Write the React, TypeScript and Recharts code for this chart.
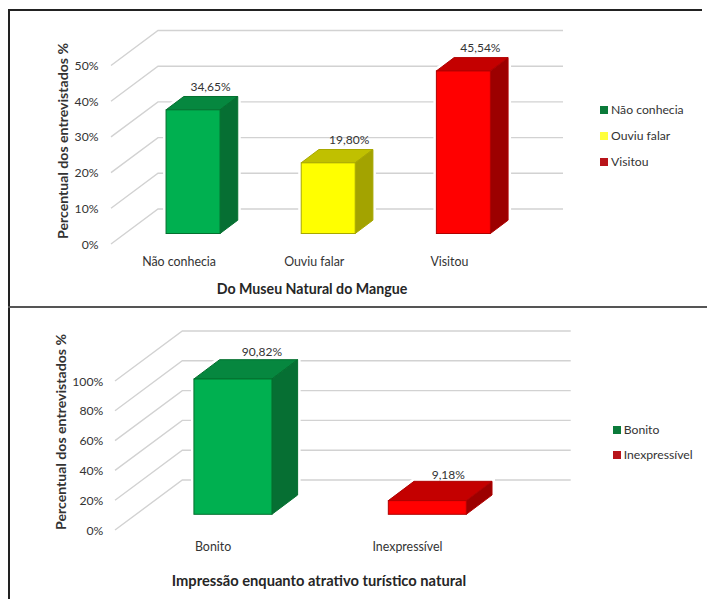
import React from 'react';
import { BarChart, Bar, XAxis, YAxis, CartesianGrid, Cell, Label, LabelList, Legend } from 'recharts';

// Awareness of the museum
const museumCategories = ['Não conhecia', 'Ouviu falar', 'Visitou'];
const museumValues = [34.65, 19.8, 45.54];
const museumTicks = [0, 10, 20, 30, 40, 50];

// Impression as a natural attraction
const impressionCategories = ['Bonito', 'Inexpressível'];
const impressionValues = [90.82, 9.18];
const impressionTicks = [0, 20, 40, 60, 80, 100];

const GREEN = { front: '#00b050', top: '#06873f', side: '#066f33', edge: '#04702f', key: '#0b7a3a' };
const YELLOW = { front: '#ffff00', top: '#c0c000', side: '#a3a300', edge: '#a8a800', key: '#ffff3c' };
const RED = { front: '#ff0000', top: '#c40000', side: '#9c0000', edge: '#b00000', key: '#b8141a' };

const FONT = 'Lato, sans-serif';
const INK = '#333';

const pct = (v: number) => v.toFixed(2).replace('.', ',') + '%';

type Palette = typeof GREEN;

type PanelProps = {
  top: number;
  height: number;
  categories: string[];
  values: number[];
  ticks: number[];
  yMax: number;
  palettes: Palette[];
  plotTop: number;
  plotBottom: number;
  plotLeft: number;
  plotRight: number;
  depth: [number, number];
  wallFront: { x: number; dy: number };
  wallBack: { x: number; dy: number };
  wallEnd: number;
  tickRight: number;
  catShift: number;
  catY: number;
  yTitle: { x: number; y: number };
  xTitle: { text: string; x: number; y: number; size: number };
  valueOffsets: [number, number][];
  legend: { left: number; top: number; step: number };
};

function Panel(p: PanelProps) {
  const data = p.categories.map((name, i) => ({ name, value: p.values[i] }));
  const [dx, dy] = p.depth;

  // Front and side/top faces of a bar in oblique projection
  const Bar3D = (s: any) => {
    const { x, y, width, height, index } = s;
    const c = p.palettes[index];
    const x2 = x + width;
    const y2 = y + height;
    const outline = `${x},${y2} ${x},${y} ${x + dx},${y - dy} ${x2 + dx},${y - dy} ${x2 + dx},${y2 - dy} ${x2},${y2}`;
    return (
      <g>
        <polygon points={outline} fill="#fff" stroke="#fff" strokeWidth={6} />
        <polygon points={`${x},${y} ${x + dx},${y - dy} ${x2 + dx},${y - dy} ${x2},${y}`} fill={c.top} stroke={c.edge} strokeWidth={1} />
        <polygon points={`${x2},${y} ${x2 + dx},${y - dy} ${x2 + dx},${y2 - dy} ${x2},${y2}`} fill={c.side} stroke={c.edge} strokeWidth={1} />
        <rect x={x} y={y} width={width} height={height} fill={c.front} stroke={c.edge} strokeWidth={1} />
      </g>
    );
  };

  // Each grid line bends from the front of the floor to the back wall
  const wallLine = (g: any) => {
    const y = g.y1;
    const pts = `${p.wallFront.x},${y + p.wallFront.dy} ${p.wallBack.x},${y + p.wallBack.dy} ${p.wallEnd},${y + p.wallBack.dy}`;
    return <polyline key={g.key ?? y} points={pts} fill="none" stroke="#d2d2d2" strokeWidth={1.4} />;
  };

  const YTick = (t: any) => (
    <text x={p.tickRight} y={t.y + p.wallFront.dy + 4.5} textAnchor="end" fontFamily={FONT} fontSize={12.2} fill={INK}>
      {t.payload.value}%
    </text>
  );

  const XTick = (t: any) => (
    <text x={t.x + p.catShift} y={p.catY + 4} textAnchor="middle" fontFamily={FONT} fontSize={12.4} fill={INK}>
      {t.payload.value}
    </text>
  );

  const ValueTag = (l: any) => {
    const [ox, oy] = p.valueOffsets[l.index];
    return (
      <text x={l.x + l.width / 2 + ox} y={l.y + oy + 4} textAnchor="middle" fontFamily={FONT} fontSize={12} fill={INK}>
        {pct(l.value)}
      </text>
    );
  };

  const Keys = () => (
    <div style={{ fontFamily: FONT, fontSize: 12.2, color: INK }}>
      {p.categories.map((name, i) => (
        <div key={name} style={{ position: 'absolute', top: i * p.legend.step, left: 0, height: 14, lineHeight: '14px', whiteSpace: 'nowrap' }}>
          <span style={{ position: 'absolute', left: 0, top: 3, width: 8, height: 8, background: p.palettes[i].key }} />
          <span style={{ position: 'absolute', left: 11, top: 0 }}>{name}</span>
        </div>
      ))}
    </div>
  );

  const YTitle = () => (
    <text
      x={p.yTitle.x}
      y={p.yTitle.y}
      transform={`rotate(-90 ${p.yTitle.x} ${p.yTitle.y})`}
      textAnchor="middle"
      dominantBaseline="central"
      fontFamily={FONT}
      fontWeight={700}
      fontSize={14.1}
      fill="#333"
    >
      Percentual dos entrevistados %
    </text>
  );

  const XTitle = () => (
    <text x={p.xTitle.x} y={p.xTitle.y} textAnchor="middle" dominantBaseline="central" fontFamily={FONT} fontWeight={700} fontSize={p.xTitle.size} fill="#262626">
      {p.xTitle.text}
    </text>
  );

  return (
    <div style={{ position: 'absolute', left: 0, top: p.top, width: 707, height: p.height }}>
      <BarChart
        width={707}
        height={p.height}
        data={data}
        barCategoryGap="30%"
        margin={{ top: p.plotTop, left: p.plotLeft - 40, right: 707 - p.plotRight, bottom: p.height - p.plotBottom - 30 }}
      >
        <CartesianGrid vertical={false} horizontal={wallLine} />
        <XAxis dataKey="name" height={30} axisLine={false} tickLine={false} tick={XTick} interval={0}>
          <Label value={p.xTitle.text} content={XTitle} />
        </XAxis>
        <YAxis width={40} domain={[0, p.yMax]} ticks={p.ticks} interval={0} axisLine={false} tickLine={false} tick={YTick}>
          <Label value="Percentual dos entrevistados %" content={YTitle} />
        </YAxis>
        <Legend
          layout="vertical"
          align="center"
          verticalAlign="middle"
          content={Keys}
          wrapperStyle={{ left: p.legend.left, top: p.legend.top, width: 90, height: 0 }}
        />
        <Bar dataKey="value" isAnimationActive={false} shape={Bar3D}>
          {data.map((d) => (
            <Cell key={d.name} />
          ))}
          <LabelList dataKey="value" content={ValueTag} />
        </Bar>
      </BarChart>
    </div>
  );
}

export default function App() {
  return (
    <div style={{ position: 'absolute', left: 0, top: 0, width: 707, height: 599, background: '#fff', overflow: 'hidden' }}>
      <Panel
        top={0}
        height={306}
        categories={museumCategories}
        values={museumValues}
        ticks={museumTicks}
        yMax={50}
        palettes={[GREEN, YELLOW, RED]}
        plotTop={55}
        plotBottom={233.5}
        plotLeft={125.5}
        plotRight={531}
        depth={[17.7, 13.3]}
        wallFront={{ x: 111, dy: 10.5 }}
        wallBack={{ x: 158, dy: -24.5 }}
        wallEnd={563}
        tickRight={98.5}
        catShift={-14}
        catY={261.7}
        yTitle={{ x: 62, y: 141 }}
        xTitle={{ text: 'Do Museu Natural do Mangue', x: 312, y: 288, size: 14.2 }}
        valueOffsets={[[17.5, -23], [21, -22.4], [17, -23.3]]}
        legend={{ left: 600, top: 103, step: 26 }}
      />
      <Panel
        top={306}
        height={293}
        categories={impressionCategories}
        values={impressionValues}
        ticks={impressionTicks}
        yMax={100}
        palettes={[GREEN, RED]}
        plotTop={59.3}
        plotBottom={208.3}
        plotLeft={135.6}
        plotRight={524.4}
        depth={[25.7, 19.3]}
        wallFront={{ x: 115, dy: 15.7 }}
        wallBack={{ x: 182.3, dy: -34.3 }}
        wallEnd={570.7}
        tickRight={103.3}
        catShift={-19.7}
        catY={241}
        yTitle={{ x: 60, y: 126 }}
        xTitle={{ text: 'Impressão enquanto atrativo turístico natural', x: 319, y: 274.3, size: 14.7 }}
        valueOffsets={[[29, -27.3], [21, -26]]}
        legend={{ left: 612.7, top: 116.5, step: 25.7 }}
      />
      {/* Frame lines around the two panels */}
      <div style={{ position: 'absolute', left: 8, top: 9, width: 694, height: 2, background: '#222' }} />
      <div style={{ position: 'absolute', left: 8, top: 9, width: 2, height: 590, background: '#222' }} />
      <div style={{ position: 'absolute', left: 8, top: 306, width: 699, height: 2, background: '#555' }} />
    </div>
  );
}
